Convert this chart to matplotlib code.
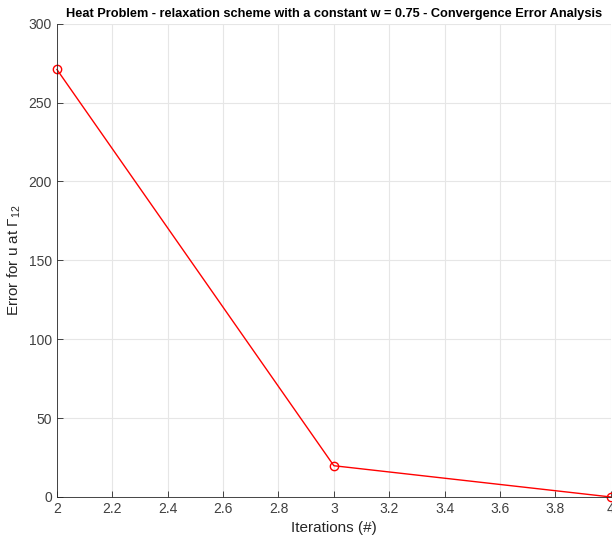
import matplotlib
matplotlib.use('Agg')
import matplotlib.pyplot as plt

# Datos
iteraciones = [2, 3, 4]
errores = [271.0, 19.8, 0.0]
xticks = [2, 2.2, 2.4, 2.6, 2.8, 3, 3.2, 3.4, 3.6, 3.8, 4]
yticks = [0, 50, 100, 150, 200, 250, 300]

plt.rcParams['font.family'] = ['Liberation Sans', 'DejaVu Sans']

fig = plt.figure(figsize=(6.12, 5.39), dpi=100)
ax = fig.add_axes([0.093, 0.078, 0.905, 0.878])

ax.plot(iteraciones, errores, color='#ff0000', linewidth=1.0, marker='o',
        markersize=6, markerfacecolor='none', markeredgecolor='#ff0000', clip_on=False)

ax.set_xlim(2, 4)
ax.set_ylim(0, 300)
ax.set_xticks(xticks)
ax.set_xticklabels(['2', '2.2', '2.4', '2.6', '2.8', '3', '3.2', '3.4', '3.6', '3.8', '4'])
ax.set_yticks(yticks)
ax.grid(True, color='#e6e6e6', linewidth=0.8)
ax.set_axisbelow(True)

for s in ['top', 'right']:
    ax.spines[s].set_visible(False)
for s in ['left', 'bottom']:
    ax.spines[s].set_color('#262626')
    ax.spines[s].set_linewidth(0.6)
ax.tick_params(direction='in', length=4, width=0.6, colors='#262626', labelsize=10)
ax.tick_params(labelcolor='#404040')

ax.set_xlabel('Iterations (#)', fontsize=11, color='#262626')
ax.set_ylabel(r'Error for u at $\mathregular{\Gamma_{12}}$', fontsize=11, color='#262626')

# Título centrado sobre los ejes
ax.text(0.5, 1 + 10 / 473, 'Heat Problem - relaxation scheme with a constant w = 0.75 - Convergence Error Analysis',
        transform=ax.transAxes, fontsize=9.2, fontweight='bold', ha='center', va='center', color='black')

fig.savefig('out.png', dpi=100)
